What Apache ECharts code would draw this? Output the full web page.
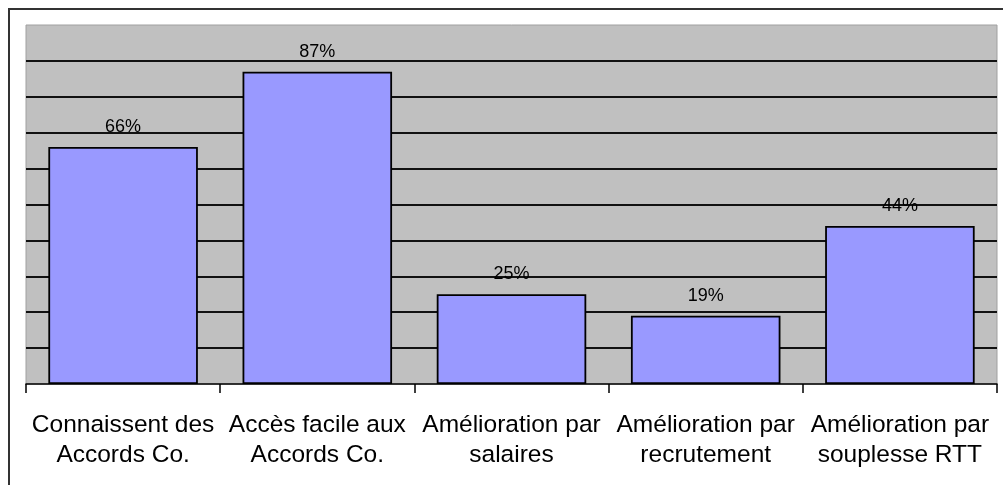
<!DOCTYPE html>
<html>
<head>
<meta charset="utf-8">
<script src="https://cdn.jsdelivr.net/npm/echarts@6/dist/echarts.min.js"></script>
<style>
  html, body { margin: 0; padding: 0; background: #fff; }
  #main { width: 1003px; height: 485px; }
</style>
</head>
<body>
<div id="main"></div>
<script>
// categories and values (percent)
var categories = [
  'Connaissent des\nAccords Co.',
  'Accès facile aux\nAccords Co.',
  'Amélioration par\nsalaires',
  'Amélioration par\nrecrutement',
  'Amélioration par\nsouplesse RTT'
];
var values = [66, 87, 25, 19, 44];

var myChart = echarts.init(document.getElementById('main'));

var option = {
  animation: false,
  textStyle: { fontFamily: 'Liberation Sans, Arial, sans-serif' },
  graphic: [{
    type: 'rect',
    shape: { x: 9, y: 9, width: 1010, height: 500 },
    style: { fill: 'none', stroke: '#333', lineWidth: 2 },
    z: -10
  }],
  grid: {
    left: 26, right: 6, top: 25, bottom: 101,
    show: true,
    backgroundColor: '#c0c0c0',
    borderColor: '#a0a0a0',
    borderWidth: 1
  },
  xAxis: {
    type: 'category',
    data: categories,
    axisLine: { lineStyle: { color: '#000', width: 1.5 } },
    axisTick: { show: true, length: 9, interval: 0, lineStyle: { color: '#000', width: 1.5 } },
    axisLabel: {
      interval: 0, color: '#000', fontSize: 24.5, lineHeight: 30, margin: 26
    },
    z: 10
  },
  yAxis: {
    type: 'value',
    min: 0, max: 100, interval: 10,
    axisLine: { show: false },
    axisTick: { show: false },
    axisLabel: { show: false },
    splitLine: {
      show: true, showMinLine: false, showMaxLine: false,
      lineStyle: { color: '#111', width: 2 }
    }
  },
  series: [{
    type: 'bar',
    data: values,
    barCategoryGap: '23%',
    itemStyle: { color: '#9999ff', borderColor: '#000', borderWidth: 1.8 },
    label: {
      show: true, position: 'top', distance: 11,
      formatter: '{c}%', color: '#000', fontSize: 18
    }
  }]
};

myChart.setOption(option);
window.onresize = function () {
  myChart.resize();
};
</script>
</body>
</html>
